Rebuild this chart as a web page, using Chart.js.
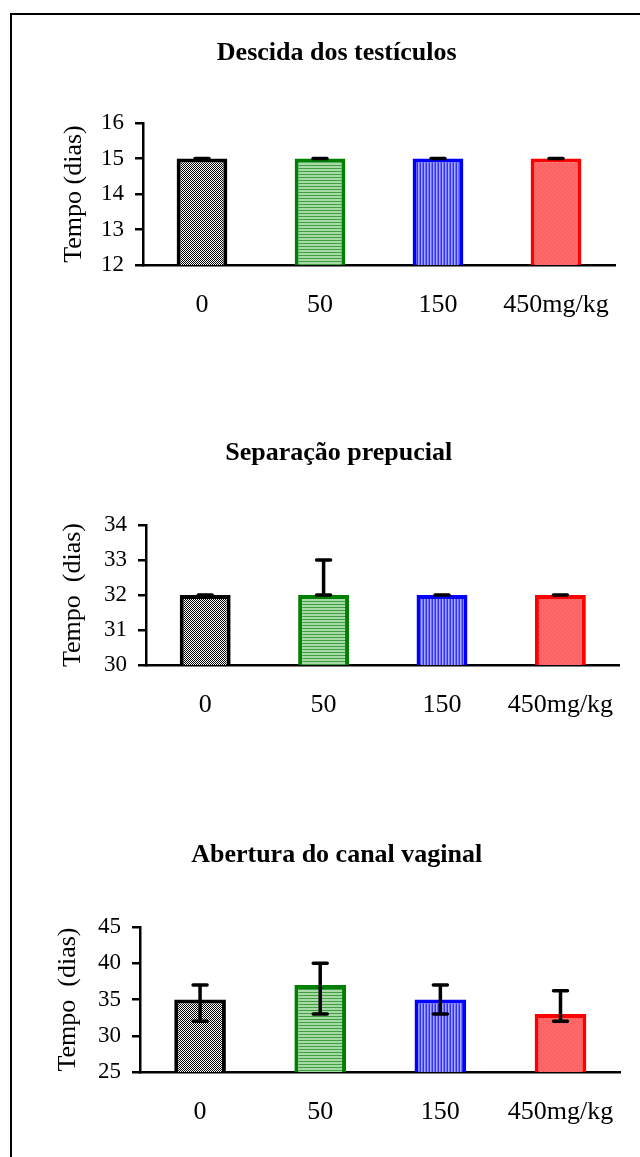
<!DOCTYPE html>
<html>
<head>
<meta charset="utf-8">
<script src="https://cdn.jsdelivr.net/npm/chart.js@4/dist/chart.umd.min.js"></script>
<style>
    html, body { margin: 0; padding: 0; background: #fff; overflow: hidden; }
    body { width: 640px; height: 1157px; position: relative; }
    canvas { position: absolute; left: 0; }
    #frame {
        position: absolute; left: 10px; top: 13px; width: 700px; height: 1200px;
        border-left: 2px solid #000; border-top: 2px solid #000;
    }
</style>
</head>
<body>
<div id="frame"></div>
<canvas id="chartDescida" width="640" height="400" style="top:0px"></canvas>
<canvas id="chartSeparacao" width="640" height="400" style="top:400px"></canvas>
<canvas id="chartAbertura" width="640" height="357" style="top:800px"></canvas>
<script>
const groups = ['0', '50', '150', '450mg/kg'];

const descidaMean = [15, 15, 15, 15];
const descidaLow = [15, 15, 15, 15];
const descidaHigh = [15, 15, 15, 15];

const separacaoMean = [32, 32, 32, 32];
const separacaoLow = [32, 32, 32, 32];
const separacaoHigh = [32, 33, 32, 32];

const aberturaMean = [35, 37, 35, 33];
const aberturaLow = [32, 33, 33, 32];
const aberturaHigh = [37, 40, 37, 36.2];

const FONT = 'Liberation Serif';
const TITLE_SIZE = 26;
const LABEL_SIZE = 26;
const TICK_SIZE = 23;
const YTITLE_SIZE = 26;

function makeTile(w, h, draw) {
    const c = document.createElement('canvas');
    c.width = w;
    c.height = h;
    draw(c.getContext('2d'));
    return document.createElement('canvas').getContext('2d').createPattern(c, 'repeat');
}

// fills copied from the old spreadsheet look
function barPatterns() {
    const grey = makeTile(2, 2, g => {
        g.fillStyle = '#fff'; g.fillRect(0, 0, 2, 2);
        g.fillStyle = '#000'; g.fillRect(0, 0, 1, 1); g.fillRect(1, 1, 1, 1);
    });
    const green = makeTile(1, 3, g => {
        g.fillStyle = '#a8daa8'; g.fillRect(0, 0, 1, 3);
        g.fillStyle = '#3f9f3f'; g.fillRect(0, 0, 1, 1);
    });
    const blue = makeTile(3, 1, g => {
        g.fillStyle = '#a8a8ff'; g.fillRect(0, 0, 3, 1);
        g.fillStyle = '#3030ff'; g.fillRect(0, 0, 1, 1);
        g.fillStyle = '#7070ff'; g.fillRect(2, 0, 1, 1);
    });
    const red = makeTile(4, 4, g => {
        g.fillStyle = '#ff6868'; g.fillRect(0, 0, 4, 4);
        g.fillStyle = '#ff5050'; g.fillRect(1, 1, 1, 1); g.fillRect(3, 3, 1, 1);
    });
    return [grey, green, blue, red];
}

const borderColors = ['#000000', '#008000', '#0000ff', '#ff0000'];

const errorBars = {
    id: 'errorBars',
    afterDatasetsDraw(chart, args, opts) {
        const meta = chart.getDatasetMeta(0);
        const yScale = chart.scales.y;
        const ctx = chart.ctx;
        ctx.save();
        ctx.strokeStyle = '#000';
        ctx.lineWidth = 3.5;
        ctx.lineCap = 'round';
        meta.data.forEach((bar, i) => {
            const yLo = yScale.getPixelForValue(opts.low[i]);
            const yHi = yScale.getPixelForValue(opts.high[i]);
            const half = 7;
            ctx.beginPath();
            ctx.moveTo(bar.x, yLo);
            ctx.lineTo(bar.x, yHi);
            ctx.moveTo(bar.x - half, yLo);
            ctx.lineTo(bar.x + half, yLo);
            ctx.moveTo(bar.x - half, yHi);
            ctx.lineTo(bar.x + half, yHi);
            ctx.stroke();
        });
        ctx.restore();
    }
};

function makeChart(id, box, title, yTitle, mean, low, high, yMin, yMax, yStep) {
    const padLeft = box.yTitleX - YTITLE_SIZE * 0.6;
    const titleHalf = TITLE_SIZE * 0.6;
    new Chart(document.getElementById(id), {
        type: 'bar',
        data: {
            labels: groups,
            datasets: [{
                data: mean,
                backgroundColor: barPatterns(),
                borderColor: borderColors,
                borderWidth: 4,
                borderSkipped: false,
                barPercentage: 0.43,
                categoryPercentage: 1
            }]
        },
        plugins: [errorBars],
        options: {
            responsive: false,
            animation: false,
            layout: { padding: { left: padLeft, right: 640 - box.right, top: 0, bottom: 0 } },
            plugins: {
                legend: { display: false },
                tooltip: { enabled: false },
                title: {
                    display: true,
                    text: title,
                    color: '#000',
                    font: { family: FONT, size: TITLE_SIZE, weight: 'bold' },
                    padding: { top: box.titleY - titleHalf, bottom: box.top - box.titleY - titleHalf }
                },
                errorBars: { low, high }
            },
            scales: {
                x: {
                    grid: { display: false, drawTicks: false },
                    border: { display: true, color: '#000', width: 2.5 },
                    ticks: { color: '#000', font: { family: FONT, size: LABEL_SIZE }, padding: 40 - LABEL_SIZE * 0.6 },
                    afterFit: s => { s.height = box.height - box.bottom; }
                },
                y: {
                    min: yMin,
                    max: yMax,
                    ticks: { stepSize: yStep, color: '#000', font: { family: FONT, size: TICK_SIZE }, padding: 11 },
                    grid: { display: true, drawOnChartArea: false, drawTicks: true, tickLength: 8, color: '#000', lineWidth: 2.5 },
                    border: { display: true, color: '#000', width: 2.5 },
                    title: { display: true, text: yTitle, color: '#000', font: { family: FONT, size: YTITLE_SIZE }, padding: 0 },
                    afterFit: s => { s.width = box.left - padLeft; }
                }
            }
        }
    });
}

makeChart('chartDescida',
    { height: 400, left: 143, right: 615, top: 123, bottom: 265, titleY: 53, yTitleX: 74 },
    'Descida dos testículos', 'Tempo (dias)',
    descidaMean, descidaLow, descidaHigh, 12, 16, 1);

makeChart('chartSeparacao',
    { height: 400, left: 146, right: 620, top: 125, bottom: 265, titleY: 53, yTitleX: 73 },
    'Separação prepucial', 'Tempo  (dias)',
    separacaoMean, separacaoLow, separacaoHigh, 30, 34, 1);

makeChart('chartAbertura',
    { height: 357, left: 140, right: 621, top: 127, bottom: 272, titleY: 55, yTitleX: 68 },
    'Abertura do canal vaginal', 'Tempo  (dias)',
    aberturaMean, aberturaLow, aberturaHigh, 25, 45, 5);
</script>
</body>
</html>
